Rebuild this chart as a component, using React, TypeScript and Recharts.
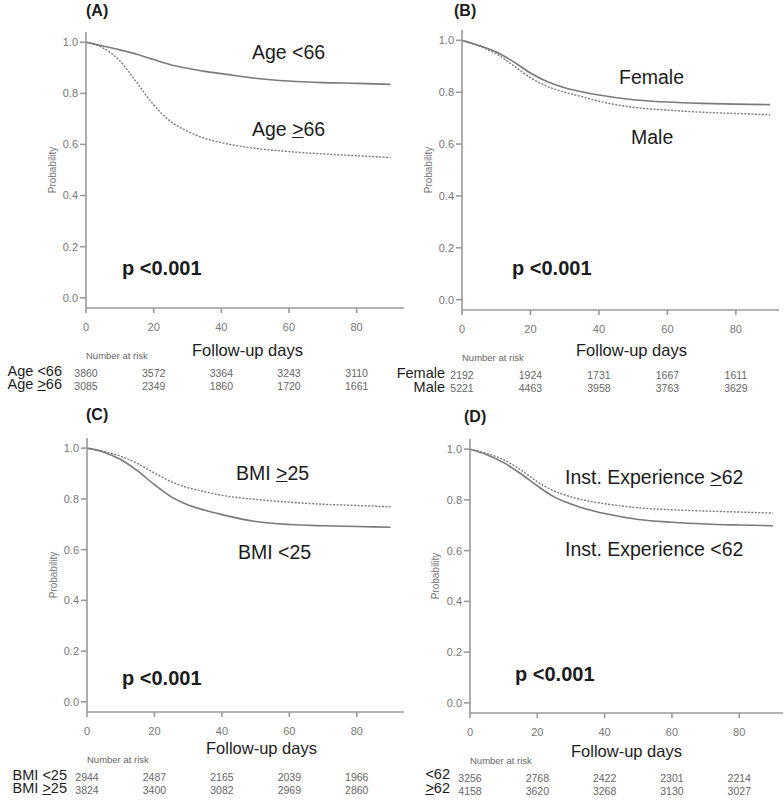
import React from 'react';
import { LineChart, Line, XAxis, YAxis } from 'recharts';

// follow-up days at which the curves were read
const days = [0, 5, 10, 15, 20, 25, 30, 35, 40, 50, 60, 70, 80, 90];

// (A) age
const ageUnder66 = [1.0, 0.985, 0.97, 0.953, 0.932, 0.912, 0.898, 0.886, 0.877, 0.859, 0.848, 0.842, 0.839, 0.835];
const ageOver66 = [1.0, 0.978, 0.927, 0.842, 0.755, 0.69, 0.652, 0.624, 0.607, 0.585, 0.572, 0.563, 0.556, 0.549];

// (B) sex
const female = [1.0, 0.98, 0.955, 0.918, 0.874, 0.84, 0.817, 0.802, 0.789, 0.771, 0.762, 0.757, 0.754, 0.752];
const male = [1.0, 0.978, 0.948, 0.903, 0.856, 0.822, 0.8, 0.783, 0.765, 0.742, 0.731, 0.723, 0.718, 0.713];

// (C) BMI
const bmiUnder25 = [1.0, 0.984, 0.955, 0.91, 0.856, 0.808, 0.776, 0.755, 0.738, 0.711, 0.699, 0.694, 0.691, 0.688];
const bmiOver25 = [1.0, 0.987, 0.968, 0.939, 0.902, 0.868, 0.844, 0.828, 0.814, 0.798, 0.787, 0.779, 0.774, 0.769];

// (D) institutional experience
const instUnder62 = [1.0, 0.978, 0.947, 0.904, 0.855, 0.812, 0.784, 0.762, 0.746, 0.723, 0.712, 0.705, 0.701, 0.698];
const instOver62 = [1.0, 0.983, 0.958, 0.919, 0.872, 0.835, 0.812, 0.796, 0.785, 0.769, 0.761, 0.756, 0.752, 0.748];

// number at risk, read at the x ticks
const xTicks = [0, 20, 40, 60, 80];
const yTicks = [0, 0.2, 0.4, 0.6, 0.8, 1.0];
const riskAgeUnder66 = [3860, 3572, 3364, 3243, 3110];
const riskAgeOver66 = [3085, 2349, 1860, 1720, 1661];
const riskFemale = [2192, 1924, 1731, 1667, 1611];
const riskMale = [5221, 4463, 3958, 3763, 3629];
const riskBmiUnder25 = [2944, 2487, 2165, 2039, 1966];
const riskBmiOver25 = [3824, 3400, 3082, 2969, 2860];
const riskInstUnder62 = [3256, 2768, 2422, 2301, 2214];
const riskInstOver62 = [4158, 3620, 3268, 3130, 3027];

const FONT = '"Liberation Sans", Arial, sans-serif';
const AXIS = '#9a9a9a';
const CURVE = '#7a7a7a';
const TICK_TEXT = '#777';
const INK = '#1c1c1c';

type PanelProps = {
  axisX: number;
  plotTop: number;
  plotW: number;
  plotH: number;
  xMax: number;
  solid: number[];
  dotted: number[];
  riskTop: number[];
  riskBottom: number[];
};

function Panel({ axisX, plotTop, plotW, plotH, xMax, solid, dotted, riskTop, riskBottom }: PanelProps) {
  const data = days.map((d, i) => ({ day: d, solid: solid[i], dotted: dotted[i] }));
  const yAxisW = 50;
  const xAxisH = 86;
  const top = 10;

  const RiskTick = (props: any) => {
    const { x, y, payload } = props;
    const ay = y - 7; // axis line position
    const i = xTicks.indexOf(payload.value);
    return (
      <g fontFamily={FONT}>
        <text x={x} y={ay + 23} textAnchor="middle" fontSize={11} fill={TICK_TEXT}>
          {payload.value}
        </text>
        {i === 0 && (
          <text x={x} y={ay + 51} textAnchor="start" fontSize={9.5} fill="#666">
            Number at risk
          </text>
        )}
        <text x={x} y={ay + 69} textAnchor="middle" fontSize={10.5} fill="#666">
          {riskTop[i]}
        </text>
        <text x={x} y={ay + 81.5} textAnchor="middle" fontSize={10.5} fill="#666">
          {riskBottom[i]}
        </text>
      </g>
    );
  };

  return (
    <div style={{ position: 'absolute', left: axisX - yAxisW, top: plotTop - top }}>
      <LineChart
        width={yAxisW + plotW + 5}
        height={top + plotH + xAxisH}
        data={data}
        margin={{ top, right: 5, left: 0, bottom: 0 }}
      >
        <XAxis
          dataKey="day"
          type="number"
          domain={[0, xMax]}
          ticks={xTicks}
          interval={0}
          allowDataOverflow
          height={xAxisH}
          stroke={AXIS}
          strokeWidth={1.6}
          tickSize={5}
          tickMargin={2}
          tick={<RiskTick />}
        />
        <YAxis
          type="number"
          domain={[-0.04, 1.04]}
          ticks={yTicks}
          interval={0}
          allowDataOverflow
          width={yAxisW}
          stroke={AXIS}
          strokeWidth={1.6}
          tickSize={6}
          tickMargin={2}
          tickFormatter={(v: number) => v.toFixed(1)}
          tick={{ fontSize: 11, fill: TICK_TEXT, fontFamily: FONT }}
        />
        <Line type="monotone" dataKey="solid" stroke={CURVE} strokeWidth={1.6} dot={false} isAnimationActive={false} />
        <Line
          type="monotone"
          dataKey="dotted"
          stroke={CURVE}
          strokeWidth={1.4}
          strokeDasharray="2 1.5"
          dot={false}
          isAnimationActive={false}
        />
      </LineChart>
    </div>
  );
}

type NoteProps = {
  x: number;
  cy: number;
  size: number;
  lh?: number;
  bold?: boolean;
  right?: boolean;
  children: React.ReactNode;
};

// cy is the vertical centre of the capital letters
function Note({ x, cy, size, lh, bold, right, children }: NoteProps) {
  const line = lh ?? size;
  const style: React.CSSProperties = {
    position: 'absolute',
    top: cy - line / 2 + 0.0115 * size,
    fontSize: size,
    lineHeight: `${line}px`,
    fontWeight: bold ? 700 : 400,
    whiteSpace: 'nowrap',
    color: INK,
    fontFamily: FONT,
  };
  if (right) style.right = 784 - x;
  else style.left = x;
  return <div style={style}>{children}</div>;
}

function YLabel({ cx, cy }: { cx: number; cy: number }) {
  return (
    <div
      style={{
        position: 'absolute',
        left: cx,
        top: cy,
        transform: 'translate(-50%, -50%) rotate(-90deg)',
        fontSize: 10,
        color: '#777',
        fontFamily: FONT,
        whiteSpace: 'nowrap',
      }}
    >
      Probability
    </div>
  );
}

const GE = () => <span style={{ textDecoration: 'underline' }}>&gt;</span>;

export default function App() {
  return (
    <div
      style={{
        position: 'absolute',
        left: 0,
        top: 0,
        width: 784,
        height: 801,
        background: '#fff',
        overflow: 'hidden',
        fontFamily: FONT,
      }}
    >
      <Panel axisX={86} plotTop={32} plotW={318} plotH={276} xMax={94} solid={ageUnder66} dotted={ageOver66} riskTop={riskAgeUnder66} riskBottom={riskAgeOver66} />
      <Panel axisX={462} plotTop={30} plotW={317} plotH={280} xMax={92.6} solid={female} dotted={male} riskTop={riskFemale} riskBottom={riskMale} />
      <Panel axisX={87} plotTop={438} plotW={317} plotH={274} xMax={94} solid={bmiUnder25} dotted={bmiOver25} riskTop={riskBmiUnder25} riskBottom={riskBmiOver25} />
      <Panel axisX={469.5} plotTop={439} plotW={313} plotH={274} xMax={93} solid={instUnder62} dotted={instOver62} riskTop={riskInstUnder62} riskBottom={riskInstOver62} />

      <YLabel cx={51.5} cy={170} />
      <YLabel cx={428} cy={170} />
      <YLabel cx={53} cy={575} />
      <YLabel cx={435} cy={576} />

      {/* (A) */}
      <Note x={86} cy={11} size={16} bold>(A)</Note>
      <Note x={252} cy={53} size={19.5}>Age &lt;66</Note>
      <Note x={252} cy={130} size={19.5}>Age <GE />66</Note>
      <Note x={122} cy={268} size={20} bold>p &lt;0.001</Note>
      <Note x={192} cy={350} size={16.5}>Follow-up days</Note>
      <Note x={62} cy={371} size={14.5} lh={12} right>Age &lt;66</Note>
      <Note x={62} cy={383.5} size={14.5} lh={12} right>Age <GE />66</Note>

      {/* (B) */}
      <Note x={454} cy={11} size={16} bold>(B)</Note>
      <Note x={619} cy={77.5} size={19.5}>Female</Note>
      <Note x={631} cy={137.5} size={19.5}>Male</Note>
      <Note x={512} cy={268} size={20} bold>p &lt;0.001</Note>
      <Note x={576} cy={350} size={16.5}>Follow-up days</Note>
      <Note x={445} cy={373} size={14.5} lh={12} right>Female</Note>
      <Note x={445} cy={387} size={14.5} lh={12} right>Male</Note>

      {/* (C) */}
      <Note x={86} cy={415} size={16} bold>(C)</Note>
      <Note x={236} cy={474} size={19.5}>BMI <GE />25</Note>
      <Note x={238} cy={553} size={19.5}>BMI &lt;25</Note>
      <Note x={122} cy={678} size={20} bold>p &lt;0.001</Note>
      <Note x={206} cy={748} size={16.5}>Follow-up days</Note>
      <Note x={67} cy={775} size={14.5} lh={12} right>BMI &lt;25</Note>
      <Note x={67} cy={788} size={14.5} lh={12} right>BMI <GE />25</Note>

      {/* (D) */}
      <Note x={464} cy={417} size={16} bold>(D)</Note>
      <Note x={565} cy={478} size={19.5}>Inst. Experience <GE />62</Note>
      <Note x={565} cy={550} size={19.5}>Inst. Experience &lt;62</Note>
      <Note x={515} cy={674} size={20} bold>p &lt;0.001</Note>
      <Note x={571} cy={751} size={16.5}>Follow-up days</Note>
      <Note x={450} cy={774} size={14.5} lh={12} right>&lt;62</Note>
      <Note x={450} cy={788} size={14.5} lh={12} right><GE />62</Note>
    </div>
  );
}
